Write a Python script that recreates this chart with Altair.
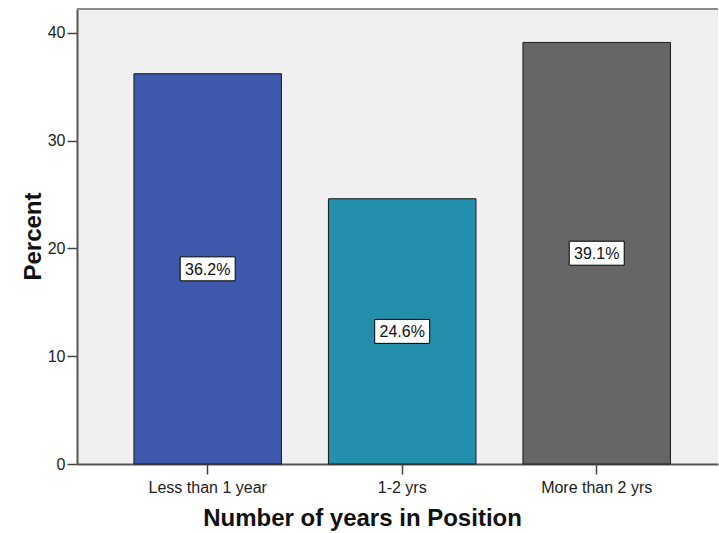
import altair as alt
import pandas as pd

categories = ["Less than 1 year", "1-2 yrs", "More than 2 yrs"]
percents = [36.2, 24.6, 39.1]
colors = ["#3E58AC", "#238FAD", "#666666"]
y_ticks = [0, 10, 20, 30, 40]

df = pd.DataFrame({"cat": categories, "value": percents})
df["label"] = [f"{v:.1f}%" for v in percents]

FONT = "Liberation Sans, Arial"

x_enc = alt.X(
    "cat:N",
    sort=categories,
    scale=alt.Scale(paddingInner=0.2416, paddingOuter=0.2686, align=0.545),
    axis=alt.Axis(
        title="Number of years in Position",
        labelAngle=0,
        labelFontSize=16,
        labelFont=FONT,
        labelColor="#222222",
        labelPadding=5,
        tickSize=10,
        tickColor="#444444",
        tickWidth=1.5,
        domainColor="#555555",
        domainWidth=2,
        titleFont=FONT,
        titleFontSize=24,
        titleFontWeight="bold",
        titleColor="#111111",
        titleX=285,
        titleY=61,
        titleAlign="center",
        titleBaseline="alphabetic",
    ),
)

y_scale = alt.Scale(domain=[0, 42.2], nice=False, zero=True)

bars = alt.Chart(df).mark_bar(stroke="#1a1a1a", strokeWidth=1).encode(
    x=x_enc,
    y=alt.Y(
        "value:Q",
        scale=y_scale,
        axis=alt.Axis(
            title="Percent",
            values=y_ticks,
            grid=False,
            labelFontSize=16,
            labelFont=FONT,
            labelColor="#222222",
            labelPadding=2,
            tickSize=10,
            tickColor="#444444",
            tickWidth=1.5,
            domainColor="#555555",
            domainWidth=2,
            titleFont=FONT,
            titleFontSize=24,
            titleFontWeight="bold",
            titleColor="#111111",
            titleAngle=270,
            titleX=-37,
            titleY=227,
            titleAlign="center",
            titleBaseline="alphabetic",
        ),
    ),
    color=alt.Color("cat:N", scale=alt.Scale(domain=categories, range=colors), legend=None),
)

boxes = alt.Chart(df).transform_calculate(mid="datum.value / 2").mark_point(
    shape="M-1,-0.436L1,-0.436L1,0.436L-1,0.436Z",
    size=55 * 55,
    filled=True,
    fill="white",
    stroke="black",
    strokeWidth=1,
    opacity=1,
).encode(
    x=alt.X("cat:N", sort=categories),
    y=alt.Y("mid:Q", scale=y_scale),
)

texts = alt.Chart(df).transform_calculate(mid="datum.value / 2").mark_text(
    font=FONT, fontSize=16, color="#111111", baseline="middle", align="center", dy=1
).encode(
    x=alt.X("cat:N", sort=categories),
    y=alt.Y("mid:Q", scale=y_scale),
    text="label:N",
)

top_border = alt.Chart(df).mark_rule(color="#8c8c8c", strokeWidth=2).encode(
    y=alt.value(0), x=alt.value(0), x2=alt.value(641)
)

chart = alt.layer(bars, boxes, texts, top_border).properties(
    width=641,
    height=455,
    autosize=alt.AutoSizeParams(type="none"),
    padding={"left": 77, "top": 9, "right": 1, "bottom": 69},
    background="white",
).configure_view(fill="#F0F0F0", stroke=None)

chart.save("out.html", embed_options={"renderer": "svg", "actions": False})
